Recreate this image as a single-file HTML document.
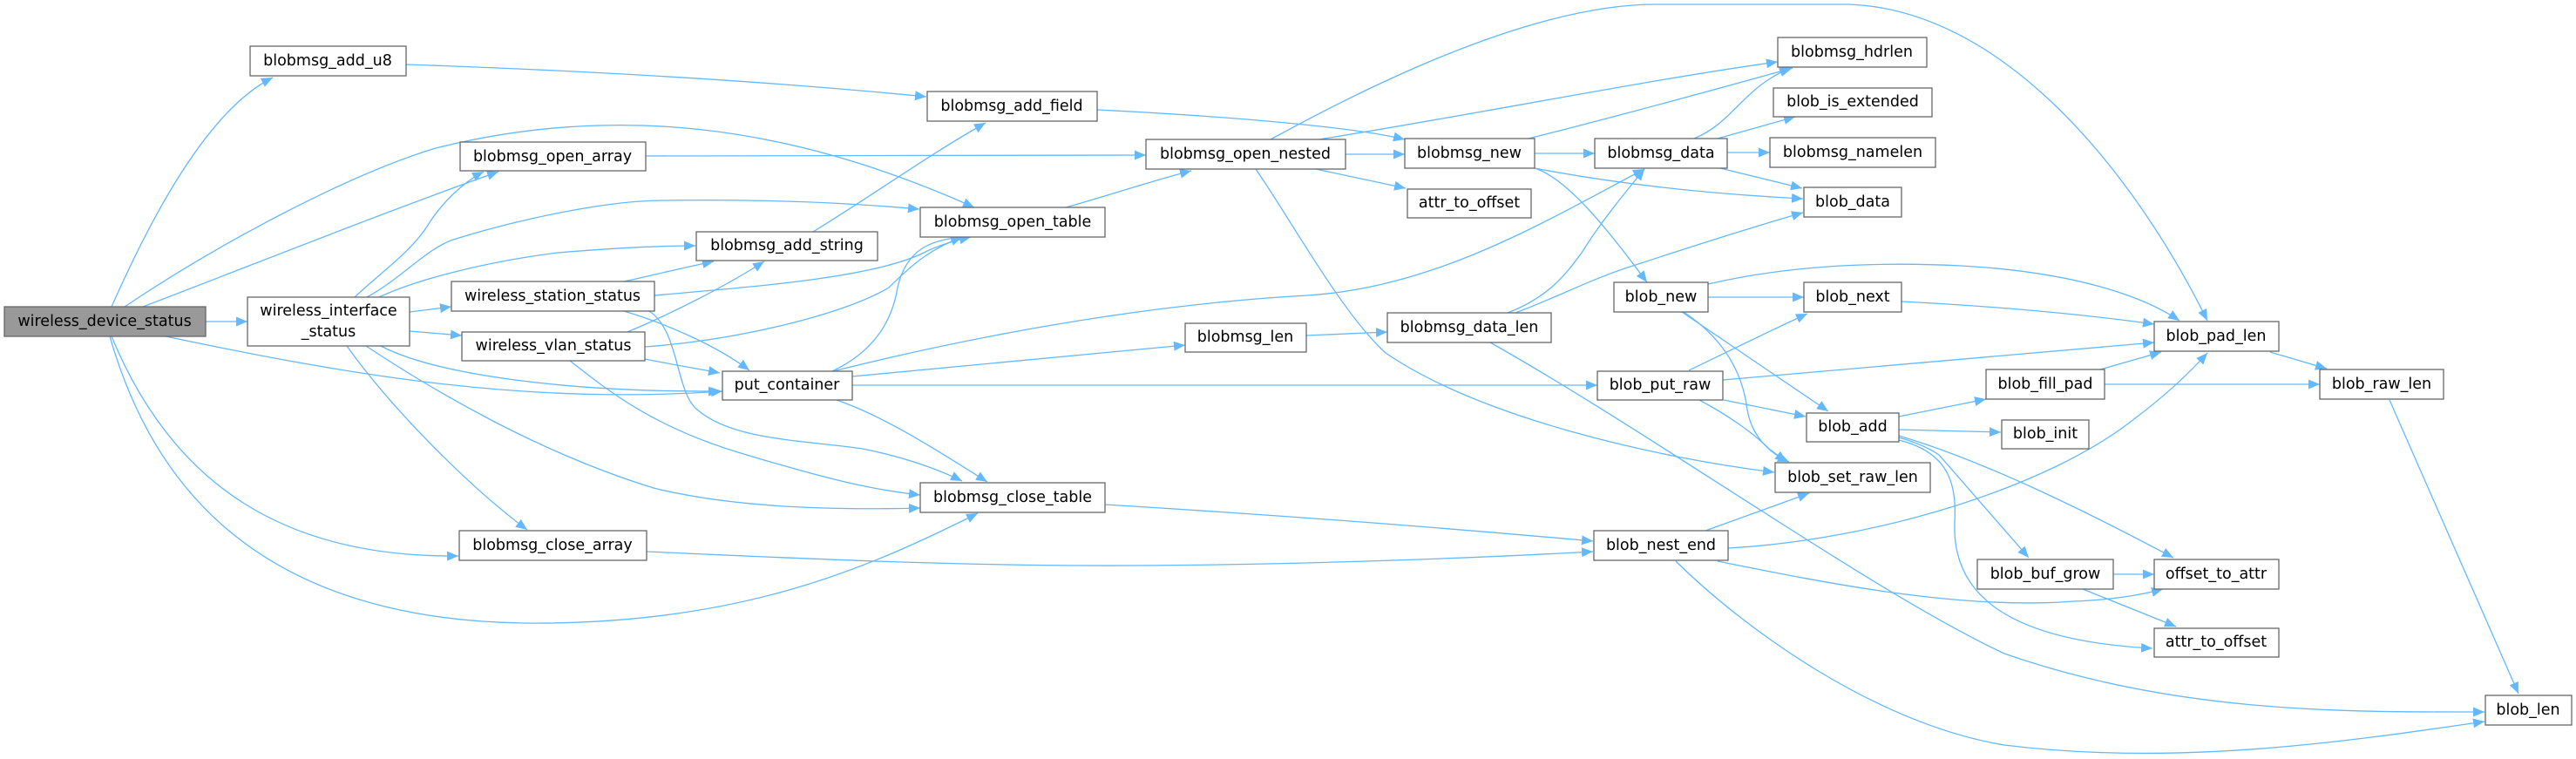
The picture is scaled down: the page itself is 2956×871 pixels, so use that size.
<!DOCTYPE html>
<html><head><meta charset="utf-8"><style>
html,body{margin:0;padding:0;background:#fff;}
svg{display:block;}
text{font-family:"DejaVu Sans","Liberation Sans",sans-serif;font-size:17.5px;fill:#000;}
.n{fill:#fff;stroke:#666;stroke-width:1.3;}
.e{fill:none;stroke:#63b8ff;stroke-width:1.3;}
</style></head><body>
<svg width="2956" height="871" viewBox="0 0 2956 871" xmlns="http://www.w3.org/2000/svg">
<defs><marker id="a" markerUnits="userSpaceOnUse" markerWidth="14" markerHeight="12" refX="13" refY="6" orient="auto"><path d="M0,0.5 L13,6 L0,11.5 Z" fill="#63b8ff"/></marker></defs>
<g class="e" marker-end="url(#a)">
<path d="M128,352 C160,280 230,130 313,89"/>
<path d="M143,352 C250,280 400,200 500,170 C700,120 900,140 1118,238"/>
<path d="M164,352 C300,300 450,240 572,197"/>
<path d="M190,386 C400,430 600,465 829,449"/>
<path d="M128,386 C200,560 330,640 526,638"/>
<path d="M126,386 C170,540 280,710 600,715 C850,718 1000,650 1122,589"/>
<path d="M236,369 L284,369"/>
<path d="M407,341 C440,310 470,290 490,260 C505,235 530,210 555,197"/>
<path d="M421,341 C460,320 490,285 520,275 C600,250 700,230 760,230 C900,228 1000,235 1055,240"/>
<path d="M435,341 C480,320 560,300 640,290 C700,285 760,282 798,282"/>
<path d="M470,358 L518,352"/>
<path d="M470,380 L530,385"/>
<path d="M437,397 C500,430 650,450 826,449"/>
<path d="M420,397 C500,450 620,520 750,560 C850,585 980,585 1056,583"/>
<path d="M398,397 C450,470 540,560 605,608"/>
<path d="M716,323 C740,318 780,308 819,300"/>
<path d="M751,339 C850,330 1000,320 1060,290 C1080,280 1100,275 1114,272"/>
<path d="M716,357 C760,370 820,395 860,425"/>
<path d="M745,357 C780,380 775,450 800,470 C840,505 920,505 990,515 C1040,525 1080,540 1104,552"/>
<path d="M720,381 C770,360 830,330 877,300"/>
<path d="M740,398 C850,390 970,360 1020,330 C1050,300 1070,285 1104,272"/>
<path d="M740,412 C770,418 800,423 826,428"/>
<path d="M654,414 C700,450 750,490 850,520 C950,550 1000,562 1056,568"/>
<path d="M955,426 C1010,400 1025,360 1030,330 C1040,285 1070,275 1104,272"/>
<path d="M956,426 C1100,390 1300,350 1500,339 C1650,330 1780,250 1887,194"/>
<path d="M978,432 L1360,396"/>
<path d="M978,442 L1833,442"/>
<path d="M960,459 C1020,480 1080,520 1133,553"/>
<path d="M466,74 C700,82 900,95 1063,111"/>
<path d="M741,179 L1315,178"/>
<path d="M933,266 C1000,225 1070,175 1131,141"/>
<path d="M1223,238 C1270,225 1320,208 1367,196"/>
<path d="M1259,126 C1400,133 1550,145 1612,160"/>
<path d="M1268,579 C1450,590 1650,605 1828,621"/>
<path d="M742,633 C900,640 1100,650 1300,649 C1500,648 1700,640 1828,633"/>
<path d="M1458,160 C1550,110 1750,5 1900,5 L2120,5 C2300,10 2450,200 2533,368"/>
<path d="M1514,160 C1700,130 1900,90 2040,71"/>
<path d="M1544,177 L1612,177"/>
<path d="M1510,194 L1613,216"/>
<path d="M1441,194 C1480,250 1540,360 1590,405 C1700,480 1900,525 2036,542"/>
<path d="M1754,159 C1850,135 1960,105 2057,78"/>
<path d="M1761,176 L1830,176"/>
<path d="M1761,193 C1850,210 1950,222 2069,228"/>
<path d="M1761,193 C1800,205 1850,270 1890,324"/>
<path d="M1944,159 C1990,140 2000,100 2055,78"/>
<path d="M1971,159 L2060,134"/>
<path d="M1982,175 L2031,175"/>
<path d="M1974,193 L2068,216"/>
<path d="M1499,385 L1592,381"/>
<path d="M1730,359 C1780,340 1800,310 1815,290 C1840,250 1870,215 1887,194"/>
<path d="M1739,359 C1790,340 1830,318 1880,303 C1950,280 2020,258 2069,244"/>
<path d="M1710,393 C1900,500 2150,680 2300,750 C2500,820 2700,817 2851,817"/>
<path d="M1960,326 C2050,305 2150,300 2250,305 C2380,312 2460,340 2501,368"/>
<path d="M1960,341 L2070,341"/>
<path d="M1930,358 L2098,472"/>
<path d="M1932,358 C1980,390 2000,430 2005,470 C2010,500 2030,520 2053,530"/>
<path d="M2182,346 C2300,352 2400,362 2472,372"/>
<path d="M1938,425 C1980,405 2030,380 2074,360"/>
<path d="M1977,436 L2472,393"/>
<path d="M1978,459 L2072,478"/>
<path d="M1950,459 C1980,475 2010,495 2030,515 L2050,530"/>
<path d="M2179,478 L2279,458"/>
<path d="M2179,493 L2296,496"/>
<path d="M2179,500 C2280,530 2400,590 2494,640"/>
<path d="M2179,502 C2200,508 2215,515 2225,522 L2328,640"/>
<path d="M2179,505 C2240,520 2245,560 2243,600 C2240,680 2300,735 2470,744"/>
<path d="M1983,629 C2150,620 2350,560 2450,480 C2490,450 2515,425 2533,405"/>
<path d="M1957,609 L2076,566"/>
<path d="M1971,644 C2100,670 2250,700 2380,690 C2430,688 2460,682 2482,676"/>
<path d="M1923,644 C2000,720 2150,830 2300,855 C2500,880 2700,850 2851,828"/>
<path d="M2410,424 L2480,404"/>
<path d="M2415,441 L2662,441"/>
<path d="M2605,404 L2670,423"/>
<path d="M2425,659 L2472,659"/>
<path d="M2390,676 L2497,719"/>
<path d="M2742,459 L2890,796"/>
</g>
<g text-anchor="middle" dominant-baseline="central">
<rect x="5" y="352" width="231" height="34" style="fill:#999;stroke:#666;stroke-width:1.3"/><text x="120" y="369">wireless_device_status</text>
<rect class="n" x="287" y="53" width="179" height="34"/><text x="376" y="70">blobmsg_add_u8</text>
<rect class="n" x="528" y="163" width="213" height="33"/><text x="634" y="180">blobmsg_open_array</text>
<rect class="n" x="284" y="341" width="186" height="56"/><text x="377" y="357">wireless_interface</text><text x="377" y="381">_status</text>
<rect class="n" x="518" y="323" width="233" height="34"/><text x="634" y="340">wireless_station_status</text>
<rect class="n" x="530" y="381" width="210" height="33"/><text x="635" y="397">wireless_vlan_status</text>
<rect class="n" x="527" y="609" width="215" height="34"/><text x="634" y="626">blobmsg_close_array</text>
<rect class="n" x="1064" y="105" width="195" height="34"/><text x="1161" y="122">blobmsg_add_field</text>
<rect class="n" x="1315" y="160" width="229" height="34"/><text x="1429" y="177">blobmsg_open_nested</text>
<rect class="n" x="1056" y="238" width="212" height="34"/><text x="1162" y="255">blobmsg_open_table</text>
<rect class="n" x="799" y="266" width="208" height="33"/><text x="903" y="282">blobmsg_add_string</text>
<rect class="n" x="1360" y="371" width="139" height="33"/><text x="1429" y="387">blobmsg_len</text>
<rect class="n" x="829" y="426" width="149" height="33"/><text x="903" y="442">put_container</text>
<rect class="n" x="1056" y="554" width="212" height="34"/><text x="1162" y="571">blobmsg_close_table</text>
<rect class="n" x="1612" y="159" width="149" height="34"/><text x="1686" y="176">blobmsg_new</text>
<rect class="n" x="1615" y="217" width="142" height="33"/><text x="1686" y="233">attr_to_offset</text>
<rect class="n" x="1830" y="159" width="152" height="34"/><text x="1906" y="176">blobmsg_data</text>
<rect class="n" x="2040" y="43" width="171" height="34"/><text x="2125" y="60">blobmsg_hdrlen</text>
<rect class="n" x="2035" y="101" width="182" height="33"/><text x="2126" y="117">blob_is_extended</text>
<rect class="n" x="2031" y="158" width="190" height="34"/><text x="2126" y="175">blobmsg_namelen</text>
<rect class="n" x="2070" y="215" width="112" height="34"/><text x="2126" y="232">blob_data</text>
<rect class="n" x="1852" y="324" width="108" height="34"/><text x="1906" y="341">blob_new</text>
<rect class="n" x="2070" y="324" width="112" height="34"/><text x="2126" y="341">blob_next</text>
<rect class="n" x="1592" y="359" width="188" height="34"/><text x="1686" y="376">blobmsg_data_len</text>
<rect class="n" x="1833" y="426" width="144" height="33"/><text x="1905" y="442">blob_put_raw</text>
<rect class="n" x="2073" y="474" width="106" height="33"/><text x="2126" y="490">blob_add</text>
<rect class="n" x="2037" y="531" width="178" height="34"/><text x="2126" y="548">blob_set_raw_len</text>
<rect class="n" x="1829" y="609" width="154" height="34"/><text x="1906" y="626">blob_nest_end</text>
<rect class="n" x="2472" y="369" width="143" height="34"/><text x="2543" y="386">blob_pad_len</text>
<rect class="n" x="2662" y="424" width="142" height="34"/><text x="2733" y="441">blob_raw_len</text>
<rect class="n" x="2279" y="424" width="136" height="34"/><text x="2347" y="441">blob_fill_pad</text>
<rect class="n" x="2297" y="482" width="100" height="33"/><text x="2347" y="498">blob_init</text>
<rect class="n" x="2269" y="642" width="156" height="34"/><text x="2347" y="659">blob_buf_grow</text>
<rect class="n" x="2472" y="642" width="143" height="34"/><text x="2543" y="659">offset_to_attr</text>
<rect class="n" x="2472" y="721" width="143" height="33"/><text x="2543" y="737">attr_to_offset</text>
<rect class="n" x="2852" y="798" width="99" height="34"/><text x="2901" y="815">blob_len</text>
</g>
</svg>
</body></html>
